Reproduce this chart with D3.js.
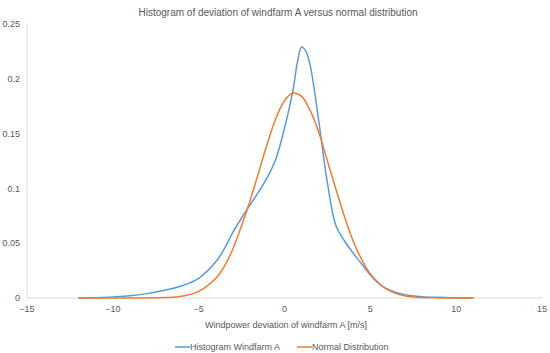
<!DOCTYPE html>
<meta charset="utf-8">
<script src="https://d3js.org/d3.v7.min.js"></script>
<style>
  body { margin: 0; background: #fff; }
  text { font-family: "Liberation Sans", Arial, sans-serif; fill: #595959; }
</style>
<svg id="chart" width="550" height="353"></svg>
<script>
// deviation [m/s] and density
const histX = [-12, -11, -10, -9, -8, -7, -6, -5, -4, -3.5, -3, -2.5, -2, -1.5, -1, -0.5, 0, 0.5, 0.75, 1, 1.25, 1.5, 2, 2.5, 3, 3.5, 4, 4.5, 5, 5.5, 6, 6.5, 7, 8, 9, 10, 11];
const histY = [0, 0.0003, 0.001, 0.002, 0.004, 0.007, 0.011, 0.018, 0.033, 0.045, 0.060, 0.073, 0.085, 0.097, 0.110, 0.127, 0.155, 0.19, 0.215, 0.229, 0.225, 0.212, 0.161, 0.105, 0.066, 0.052, 0.041, 0.031, 0.021, 0.013, 0.008, 0.005, 0.003, 0.0012, 0.0006, 0.0002, 0];

const normX = [-12, -11, -10, -9, -8, -7, -6, -5, -4, -3.5, -3, -2.5, -2, -1.5, -1, -0.5, 0, 0.5, 1, 1.5, 2, 2.5, 3, 3.5, 4, 4.5, 5, 6, 7, 8, 9, 10, 11];
const normY = [0, 0, 0, 0, 0.0001, 0.0004, 0.0015, 0.006, 0.018, 0.029, 0.045, 0.066, 0.089, 0.115, 0.141, 0.164, 0.180, 0.187, 0.184, 0.171, 0.151, 0.125, 0.099, 0.074, 0.052, 0.035, 0.022, 0.0076, 0.002, 0.0004, 0.0001, 0, 0];

const xTicks = [-15, -10, -5, 0, 5, 10, 15];
const yTicks = [0, 0.05, 0.1, 0.15, 0.2, 0.25];

const seriesNames = ["Histogram Windfarm A", "Normal Distribution"];
const colors = ["#5b9bd5", "#ed7d31"];

const svg = d3.select("#chart");

const x = d3.scaleLinear().domain([-15, 15]).range([27, 542]);
const y = d3.scaleLinear().domain([0, 0.25]).range([298, 24]);

// axes lines
svg.append("line")
    .attr("x1", x(-15)).attr("x2", x(-15))
    .attr("y1", y(0.25)).attr("y2", y(0))
    .attr("stroke", "#d9d9d9");
svg.append("line")
    .attr("x1", x(-15)).attr("x2", x(15))
    .attr("y1", y(0)).attr("y2", y(0))
    .attr("stroke", "#d9d9d9");

// tick labels
svg.append("g").selectAll("text")
    .data(yTicks)
    .join("text")
      .attr("x", 20)
      .attr("y", d => y(d))
      .attr("dy", "0.35em")
      .attr("text-anchor", "end")
      .style("font-size", "9px")
      .text(d => d3.format("~g")(d));

svg.append("g").selectAll("text")
    .data(xTicks)
    .join("text")
      .attr("x", d => x(d))
      .attr("y", 312)
      .attr("text-anchor", "middle")
      .style("font-size", "9px")
      .text(d => d < 0 ? "\u2212" + Math.abs(d) : d);

// lines, smoothed like the original
const line = d3.line()
    .x(d => x(d[0]))
    .y(d => y(d[1]))
    .curve(d3.curveCatmullRom.alpha(0.5));

const series = [d3.zip(histX, histY), d3.zip(normX, normY)];

svg.append("g").selectAll("path")
    .data(series)
    .join("path")
      .attr("d", line)
      .attr("fill", "none")
      .attr("stroke", (d, i) => colors[i])
      .attr("stroke-width", 1.5);

// title and axis label
svg.append("text")
    .attr("x", 278).attr("y", 16)
    .attr("text-anchor", "middle")
    .style("font-size", "10px")
    .text("Histogram of deviation of windfarm A versus normal distribution");

svg.append("text")
    .attr("x", 286).attr("y", 328)
    .attr("text-anchor", "middle")
    .style("font-size", "9px")
    .text("Windpower deviation of windfarm A [m/s]");

// legend
const legendX = [175, 297];
const legend = svg.append("g").selectAll("g")
    .data(seriesNames)
    .join("g")
      .attr("transform", (d, i) => `translate(${legendX[i]},347)`);
legend.append("line")
    .attr("x1", 0).attr("x2", 15)
    .attr("stroke", (d, i) => colors[i])
    .attr("stroke-width", 1.5);
legend.append("text")
    .attr("x", 15)
    .attr("dy", "0.35em")
    .style("font-size", "9px")
    .text(d => d);
</script>
